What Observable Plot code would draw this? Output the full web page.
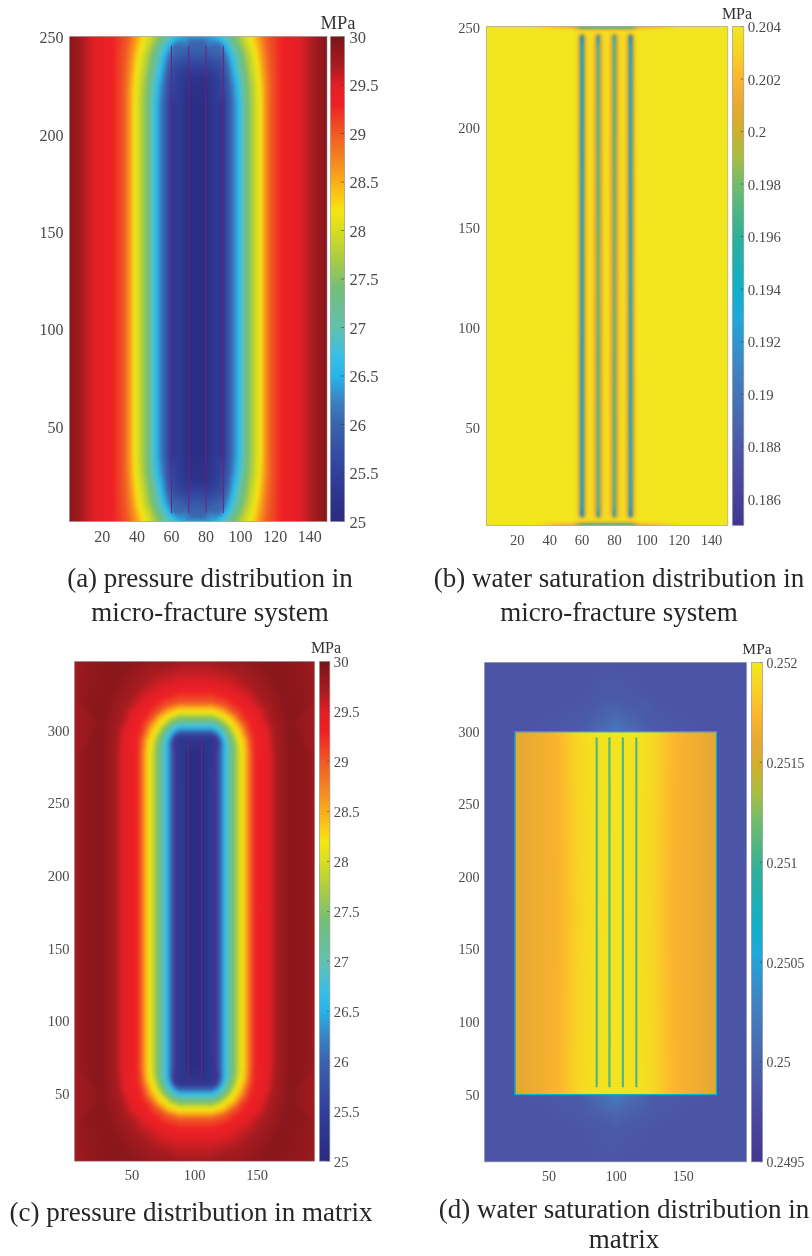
<!DOCTYPE html>
<html><head><meta charset="utf-8">
<script src="https://cdn.jsdelivr.net/npm/d3@7"></script>
<script src="https://cdn.jsdelivr.net/npm/@observablehq/plot@0.6"></script>
<style>
html,body{margin:0;padding:0;background:#fff}
#page{position:relative;width:812px;height:1256px;overflow:hidden;font-family:"Liberation Serif",serif;filter:blur(.4px)}
#page svg{position:absolute;background:transparent;overflow:visible}
.cap{position:absolute;color:#262626;font-size:27px;line-height:34px;text-align:center;white-space:nowrap;transform:translateX(-50%)}
.unit{position:absolute;color:#333;transform:translateX(-50%);white-space:nowrap;line-height:1}
</style></head><body><div id="page"></div>
<script>
// ---------- colour ramps ----------
const jetStops=[25,25.5,26,26.25,26.5,26.7,27,27.4,27.7,28,28.2,28.4,28.7,29,29.3,29.5,29.7,30];
const jetColors=["#2a2a80","#31409a","#3a63ae","#3a84c4","#27b4e8","#38bfe6","#62c0b0","#72bf78","#a9cc45","#d8de20","#f5e614","#fbc015","#f58a1f","#f15a24","#ee2024","#e21f26","#a81c20","#7a1418"];
const parulaB=[0.185,0.187,0.189,0.191,0.1929,0.194,0.196,0.198,0.199,0.2,0.201,0.202,0.203,0.204];
const parulaD=[0.2495,0.24976,0.25003,0.2503,0.25054,0.25068,0.25095,0.25121,0.25134,0.25147,0.2516,0.25174,0.25187,0.252];
const parulaColors=["#423692","#4b4ba0","#4a68b0","#3f84c2","#1fa8dc","#0fb0c8","#2fb09a","#72bc6c","#a8bd44","#cdb12c","#e8a832","#fcb62e","#f8d323","#f1e81e"];

// ---------- (a) pressure, micro-fracture: x of each iso-pressure line on each row (one quarter) ----------
const levelsA=[29.9,29.65,29.5,29.3,29.0,28.6,28.2,27.85,27.4,26.6,26.05,25.7];
const rowYA=[125.5,150,175,200,215,225,234,240,245,248,250];
const isoXA=[
 [1,1,1,1,1,1,1,1,1,1,1],
 [10,10,10,10,10,10,10,10,10,10,10],
 [15.5,15.5,15.5,15.5,15.5,15.5,15.5,15.5,15.5,15.5,15.5],
 [26,26,26,26,26,26,26,26,26,26,26],
 [32.5,32.5,32.5,32.5,32.5,32.5,33,33.5,34,34.5,35],
 [36,36,36,36,36,36.2,37,37.7,38.5,39.2,39.5],
 [38.5,38.5,38.5,38.5,38.5,39,40,41,42.5,43.5,44],
 [42,42,42,42,42,42.5,44,45,47,48.3,49],
 [46,46,46,46,46,46.5,48,49,51,53,54],
 [51,51,51,51,51,52,54,55.5,58,61,64],
 [55,55,55,55,55,56,57.5,59.5,62,72,null],
 [58,58,58,58,58,58.5,61,null,null,null,null]];
const innerXA=[60,65,70,75];
const innerVA=[25.3,25.35,25.08,25.1];
const innerYA=[125.5,150,175,200,215];
const capA=[[65,228,25.4],[70,228,25.2],[75,228,25.2],[67,236,25.6],[75,236,25.6],[70,243,25.95],[75,243,25.95],[66,250,26.5],[70,250,26.45],[75,250,26.45]];
const fracturesA=[60,70,80,90];

// ---------- (b) water saturation, micro-fracture ----------
const xsB=[1,30,54,56.5,58,59,60,61,62,63.5,66.5,68,69,70,71,72,73.5,75];
const ysB=[250,249,248,247,246,245,240,125.5];
const rowsB=[
[.2039,.2039,.2005,.1985,.1965,.1958,.1955,.1955,.1955,.1955,.1955,.1955,.1955,.1955,.1955,.1955,.1955,.1955],
[.2039,.2039,.2028,.2015,.2,.199,.1985,.1985,.1985,.1985,.1985,.1985,.1985,.1985,.1985,.1985,.1985,.1985],
[.2039,.2039,.2037,.2035,.2032,.203,.2028,.2028,.2028,.2028,.2028,.2028,.2028,.2028,.2028,.2028,.2028,.2028],
[.2039,.2039,.2039,.2038,.2037,.2035,.2034,.2035,.2036,.2037,.2037,.2036,.2035,.2034,.2035,.2036,.2037,.2037],
[.2039,.2039,.2039,.2037,.2028,.2015,.1995,.2015,.2028,.2035,.2035,.2028,.2015,.1998,.2015,.2028,.2035,.2036],
[.2039,.2039,.2039,.2036,.2018,.196,.1855,.196,.2018,.2034,.2034,.2018,.1985,.1885,.1985,.2018,.2034,.2036],
[.2039,.2039,.2039,.2036,.2012,.1975,.1885,.1975,.2012,.2034,.2034,.2012,.2,.193,.2,.2012,.2034,.2036],
[.2039,.2039,.2039,.2036,.2012,.198,.1885,.198,.2012,.2034,.2034,.2012,.2005,.195,.2005,.2012,.2034,.2037]];

// ---------- (c) pressure, matrix: distance of each iso-pressure line along rays from the fan centre (one quarter) ----------
const levelsC=[29.9,29.7,29.5,29.25,29.0,28.45,28.2,27.4,26.6,26.0,25.4];
const raysC=[0,18,36,54,72,90];
const fanRC=[
 [63,66,70,75,null,null],
 [51,52,54,56,59,62],
 [46,46.5,46.5,46,46.5,48],
 [34,35,36.5,38,39.5,41],
 [31,31.5,32.5,33,34,35],
 [27,27.5,28,29,30,31],
 [24,24,24.5,25.5,27,28.5],
 [17,17.5,18.5,20,21.5,23],
 [10,10.5,12,14,16,17.6],
 [6.5,7,8.5,11,13,14.5],
 [3,3.5,5,7.5,10,11.5]];
const sideYC=[176.5,205,235,260];
const edgeXC=[4,12];
const edgeVC=[29.72,29.86];
const edgeYC=[176.5,205,235,260,285,320];
const innerXC=[90,95,101];
const innerVC=[25.35,25.1,25.1];
const innerYC=[176.5,205,235,260,285];
const topEdgeC=[[4,349,29.72],[12,349,29.82],[30,349,29.88],[60,349,29.83],[80,349,29.78],[88,349,29.75],[101,349,29.72],[88,285,25.3],[95,291,25.2],[101,291,25.2]];
const fracturesC=[85,95,105.5,116];

// ---------- (d) water saturation, matrix ----------
const xsD=[2,40,70,85,100];
const ysD=[349,325,312,301,175];
const rowsD=[
[.24985,.24985,.24985,.24985,.24985],
[.24985,.24985,.24985,.24987,.2499],
[.24985,.24985,.24988,.24995,.25003],
[.24985,.24986,.2499,.25003,.25022],
[.24985,.24985,.24985,.24985,.24985]];
const xsDi=[25,30,45,55,65,75,85,100];
const ysDi=[300,296,175];
const rowsDi=[
[.25155,.2516,.25168,.25175,.25185,.25195,.25198,.252],
[.25155,.2516,.25167,.25172,.25182,.25192,.25196,.25198],
[.25155,.2516,.25167,.2517,.2518,.2519,.25195,.25197]];
const reservoirD=[{x1:25,x2:175,y1:50,y2:300,v:.25068}];
const fracturesD=[85.5,95,105,115];

// ---------- tick labels ----------
const xTicksAB=[20,40,60,80,100,120,140];
const yTicksAB=[50,100,150,200,250];
const xTicksCD=[50,100,150];
const yTicksCD=[50,100,150,200,250,300];
const cbTicksP=[25,25.5,26,26.5,27,27.5,28,28.5,29,29.5,30];
const cbTicksB=[.186,.188,.19,.192,.194,.196,.198,.2,.202,.204];
const cbTicksD=[.2495,.25,.2505,.251,.2515,.252];

function mirror(points,cx,cy){
  const m=new Map();
  for(const [x,y,v] of points) for(const a of [x,2*cx-x]) for(const b of [y,2*cy-y]) m.set(a+"|"+b,{x:a,y:b,v});
  return [...m.values()];
}
function grid(xs,ys,rows,cx,cy){
  return mirror(ys.flatMap((y,i)=>xs.map((x,j)=>[x,y,rows[i][j]])),cx,cy);
}
function fieldA(){
  const pts=[];
  levelsA.forEach((v,i)=>rowYA.forEach((y,j)=>{if(isoXA[i][j]!=null)pts.push([isoXA[i][j],y,v]);}));
  innerYA.forEach(y=>innerXA.forEach((x,k)=>pts.push([x,y,innerVA[k]])));
  return mirror([...pts,...capA],75,125.5);
}
function fieldC(){
  const xc=88,yc=285,pts=[];
  levelsC.forEach((v,i)=>{
    raysC.forEach((deg,j)=>{
      const r=fanRC[i][j]; if(r==null)return;
      const t=deg*Math.PI/180;
      pts.push([xc-r*Math.cos(t),yc+r*Math.sin(t),v]);
    });
    sideYC.forEach(y=>pts.push([xc-fanRC[i][0],y,v]));
    if(fanRC[i][5]!=null) pts.push([101,yc+fanRC[i][5],v]);
  });
  edgeYC.forEach(y=>edgeXC.forEach((x,k)=>pts.push([x,y,edgeVC[k]])));
  innerYC.forEach(y=>innerXC.forEach((x,k)=>pts.push([x,y,innerVC[k]])));
  return mirror([...pts,...topEdgeC],101,176.5);
}
const page=document.getElementById("page");
const TXT="#4a4a4a";
function place(svg,l,t){svg.style.left=l+"px";svg.style.top=t+"px";page.appendChild(svg);}
const rasterOpts={x:"x",y:"y",fill:"v",interpolate:"barycentric",pixelSize:1};

function panel(p){
  const ml=44,mr=3,mt=4,mb=28;
  const color={type:"linear",domain:p.stops,range:p.colors,interpolate:"rgb",clamp:true};
  const fs=p.fs;
  const svg=Plot.plot({
    width:p.r-p.l+ml+mr,height:p.b-p.t+mt+mb,marginLeft:ml,marginRight:mr,marginTop:mt,marginBottom:mb,
    style:{fontFamily:"'Liberation Serif',serif",background:"transparent"},
    x:{domain:p.xd},y:{domain:p.yd},color,
    marks:[
      ...p.marks,
      Plot.frame({stroke:"#8a8a8a",strokeOpacity:.55}),
      Plot.axisX(p.xt,{anchor:"bottom",tickSize:0,tickPadding:p.xpad,fontSize:fs,fill:TXT,label:null,tickFormat:String}),
      Plot.axisY(p.yt,{anchor:"left",tickSize:0,tickPadding:p.ypad,fontSize:fs,fill:TXT,label:null,dy:p.ydy,tickFormat:String})
    ]});
  place(svg,p.l-ml,p.t-mt);
  // colour bar
  const cbm=3,cbr=56;
  const ends=[p.stops[0],p.stops[p.stops.length-1]];
  const cbData=ends.flatMap(v=>[{x:0,y:v,v},{x:1,y:v,v}]);
  const bar=Plot.plot({
    width:p.cr-p.cl+cbm+cbr,height:p.b-p.t+mt+8,marginLeft:cbm,marginRight:cbr,marginTop:mt,marginBottom:8,
    style:{fontFamily:"'Liberation Serif',serif",background:"transparent"},
    x:{domain:[0,1],axis:null},y:{domain:ends},color,
    marks:[
      Plot.raster(cbData,rasterOpts),
      Plot.ruleY(p.cbt,{x1:.78,x2:1,stroke:"#3a3a3a",strokeOpacity:.55}),
      Plot.frame({stroke:"#8a8a8a",strokeOpacity:.6}),
      Plot.axisY(p.cbt,{anchor:"right",tickSize:0,tickPadding:p.cpad,fontSize:p.cfs,fill:TXT,label:null,dy:1,tickFormat:String})
    ]});
  place(bar,p.cl-cbm,p.t-mt);
  const u=document.createElement("div");u.className="unit";u.textContent="MPa";
  u.style.cssText=`left:${p.ux}px;top:${p.uy}px;font-size:${p.ufs}px`;page.appendChild(u);
}

panel({l:69,r:326.5,t:36,b:521,xd:[1,150],yd:[1,250],xt:xTicksAB,yt:yTicksAB,fs:16,xpad:9,ypad:6,ydy:1.5,
  stops:jetStops,colors:jetColors,cl:330,cr:344,cbt:cbTicksP,cfs:16.5,cpad:5,ux:338,uy:14,ufs:18.5,
  marks:[Plot.raster(fieldA(),{...rasterOpts,blur:1}),
         Plot.ruleX(fracturesA,{y1:5,y2:245,stroke:"#72207f",strokeWidth:1})]});

panel({l:485.5,r:726.7,t:26,b:525,xd:[1,150],yd:[1,250],xt:xTicksAB,yt:yTicksAB,fs:14.5,xpad:9,ypad:6.5,ydy:1.5,
  stops:parulaB,colors:parulaColors,cl:731.5,cr:742.7,cbt:cbTicksB,cfs:14.8,cpad:4,ux:737,uy:6,ufs:16,
  marks:[Plot.raster(grid(xsB,ysB,rowsB,75,125.5),{...rasterOpts,blur:.5})]});

panel({l:73.5,r:313.6,t:661,b:1160.7,xd:[4,196],yd:[4,348],xt:xTicksCD,yt:yTicksCD,fs:14.5,xpad:9,ypad:5,ydy:0,
  stops:jetStops,colors:jetColors,cl:319,cr:329.3,cbt:cbTicksP,cfs:14.7,cpad:4,ux:326,uy:640,ufs:16,
  marks:[Plot.raster(fieldC(),{...rasterOpts,blur:1}),
         Plot.ruleX(fracturesC,{y1:56,y2:296,stroke:"#72207f",strokeWidth:1})]});

panel({l:484,r:746,t:661.7,b:1161,xd:[2,197],yd:[4,348],xt:xTicksCD,yt:yTicksCD,fs:14,xpad:9,ypad:5,ydy:0,
  stops:parulaD,colors:parulaColors,cl:751,cr:762,cbt:cbTicksD,cfs:13.8,cpad:4,ux:757,uy:641,ufs:15.5,
  marks:[Plot.raster(grid(xsD,ysD,rowsD,100,175),{...rasterOpts,blur:1}),
         Plot.raster(grid(xsDi,ysDi,rowsDi,100,175),{...rasterOpts,x1:25,x2:175,y1:50,y2:300,blur:1}),
         Plot.rect(reservoirD,{x1:"x1",x2:"x2",y1:"y1",y2:"y2",fill:"none",stroke:"v",strokeWidth:1.2}),
         Plot.ruleX(fracturesD,{y1:55,y2:296,stroke:()=>.2511,strokeWidth:2.2})]});

const captions=[
 [210,561,34,"(a) pressure distribution in<br>micro-fracture system"],
 [619,561,34,"(b) water saturation distribution in<br>micro-fracture system"],
 [191,1195,34,"(c) pressure distribution in matrix"],
 [624,1194,30,"(d) water saturation distribution in<br>matrix"]];
for(const [x,y,lh,t] of captions){
  const d=document.createElement("div");d.className="cap";d.style.left=x+"px";d.style.top=y+"px";d.style.lineHeight=lh+"px";d.innerHTML=t;page.appendChild(d);
}
</script></body></html>
